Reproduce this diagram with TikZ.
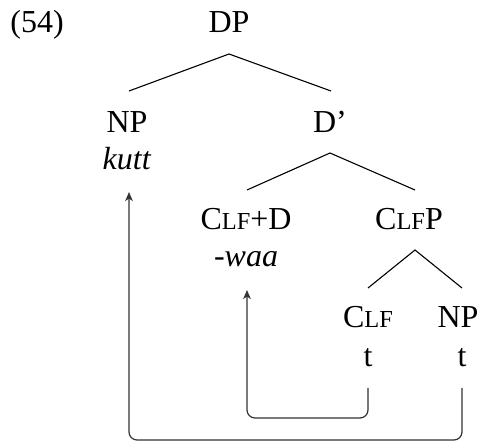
\documentclass[tikz,border=0pt]{standalone}
\usepackage{fontspec}
\setmainfont{Liberation Serif}
\usetikzlibrary{calc,arrows.meta}
\newcommand{\smc}[1]{{\fontsize{12.2pt}{14pt}\selectfont #1}}
\begin{document}
\begin{tikzpicture}[x=0.5pt,y=-0.5pt,
  lbl/.style={inner sep=0pt,anchor=base,font=\fontsize{16pt}{18pt}\selectfont},
  branch/.style={line width=0.55pt},
  move/.style={line width=0.6pt,draw=black!80,rounded corners=4pt,-{Stealth[length=4.5pt,width=3.8pt,inset=1.2pt]}}]
\useasboundingbox (0,0) rectangle (482,448);
\node[lbl,anchor=base west] (ex) at (10,33) {(54)};
\node[lbl] (DP) at (229,33) {DP};
\node[lbl] (NP) at (127,133) {NP};
\node[lbl] (kutt) at (127,170) {\textit{kutt}};
\node[lbl] (Dbar) at (330,133) {D’};
\node[lbl] (ClfD) at (246,230) {C\smc{LF}+D};
\node[lbl] (waa) at (246,267) {-\textit{waa}};
\node[lbl] (ClfP) at (409,230) {C\smc{LF}P};
\node[lbl] (Clf) at (368,328) {C\smc{LF}};
\node[lbl] (tClf) at (368,367) {t};
\node[lbl] (NP2) at (458,328) {NP};
\node[lbl] (tNP) at (462,367) {t};
% branches
\draw[branch] ($(NP.base)+(2,-42)$) -- ($(DP.base)+(0,21)$) -- ($(Dbar.base)+(1,-42)$);
\draw[branch] ($(ClfD.base)+(1,-40)$) -- ($(Dbar.base)+(0,20)$) -- ($(ClfP.base)+(6,-40)$);
\draw[branch] ($(Clf.base)+(0,-40)$) -- ($(ClfP.base)+(6,20)$) -- ($(NP2.base)+(4,-40)$);
% movement arrows
\draw[move] ($(tClf.base)+(0,21)$) -- ++(0,30) -| ($(waa.base)+(1,23)$);
\draw[move] ($(tNP.base)+(0,21)$) -- ++(0,52) -| ($(kutt.base)+(2,22)$);
\end{tikzpicture}
\end{document}
